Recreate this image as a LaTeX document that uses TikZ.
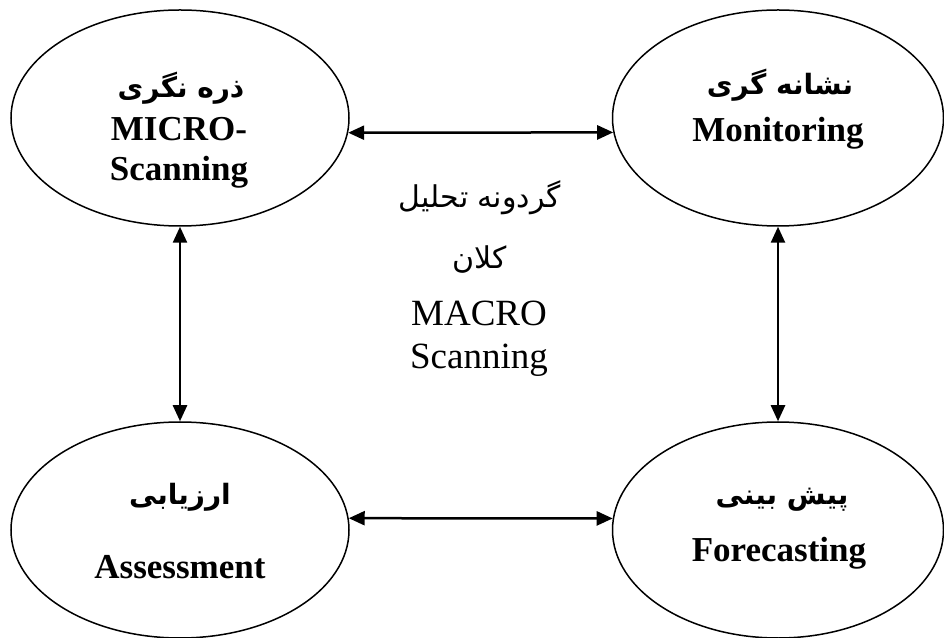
\documentclass[tikz,border=0pt]{standalone}
\usepackage{fontspec}
\setmainfont{Liberation Serif}
\newfontfamily\arabicfont[Script=Arabic]{DejaVu Sans}
\TeXXeTstate=1
\usetikzlibrary{arrows.meta,shapes.geometric}

\begin{document}
\begin{tikzpicture}[x=1pt,y=1pt,>={Triangle[length=16pt,width=14pt]},
  stage/.style={draw,ellipse,line width=1.5pt,minimum width=338pt,minimum height=216pt,inner sep=0pt},
  fatl/.style={inner sep=0pt,font=\arabicfont\bfseries\fontsize{28}{32}\selectfont},
  fatx/.style={inner sep=0pt,font=\arabicfont\fontsize{30}{34}\selectfont},
  entl/.style={inner sep=0pt,align=center,font=\bfseries\fontsize{35}{40}\selectfont},
  link/.style={<->,line width=2.5pt}]
\useasboundingbox (0,0) rectangle (944,637);

% the four stages
\node[stage] (micro) at (180,519) {};
\node[stage,minimum width=331pt] (monit) at (778,519) {};
\node[stage] (assess) at (180,107) {};
\node[stage,minimum width=331pt] (forec) at (778,107) {};

\node[fatl] (microfa) at (181,549) {\beginR ذره نگری\endR};
\node[entl] (microen) at (179,484) {MICRO-\\Scanning};
\node[fatl] (monitfa) at (780,552) {\beginR نشانه گری\endR};
\node[entl] (moniten) at (778,504) {Monitoring};
\node[fatl] (assessfa) at (180,140) {\beginR ارزیابی\endR};
\node[entl] (assessen) at (180,70) {Assessment};
\node[fatl] (forecfa) at (782,137) {\beginR پیش بینی\endR};
\node[entl] (forecen) at (779,84) {Forecasting};

% the cycle in the middle
\node[fatx] (cyc1) at (480,439) {\beginR گردونه تحلیل\endR};
\node[fatx] (cyc2) at (480,377) {\beginR کلان\endR};
\node[inner sep=0pt,align=center,font=\fontsize{37}{43}\selectfont] (macro) at (479,298) {MACRO\\Scanning};

\draw[link] (micro.-5) -- (monit.185);
\draw[link] (assess.4) -- (forec.176);
\draw[link] (micro.south) -- (assess.north);
\draw[link] (monit.south) -- (forec.north);
\end{tikzpicture}
\end{document}
